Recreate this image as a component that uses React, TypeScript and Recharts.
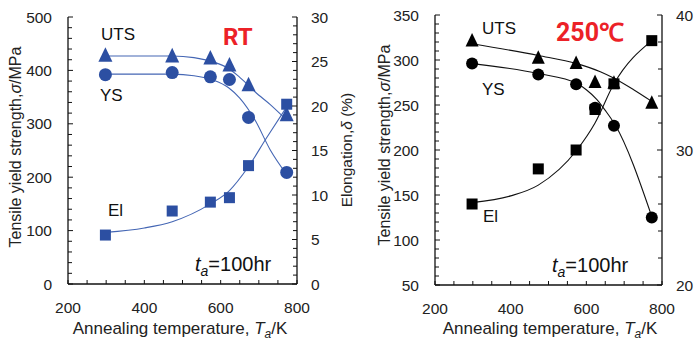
import React from "react";
import { ComposedChart, Line, Scatter, XAxis, YAxis } from "recharts";

// measured points (annealing temperature, K)
const temps = [298, 473, 573, 623, 673, 773];

// RT test
const utsRT = [427, 426, 422, 409, 372, 316];
const ysRT = [392, 396, 388, 383, 312, 209];
const elRT = [5.5, 8.2, 9.2, 9.7, 13.3, 20.2];

// 250C test
const uts250 = [321, 302, 296, 275, 274, 252];
const ys250 = [296, 284, 273, 247, 227, 125];
const el250 = [26.0, 28.6, 30.0, 33.0, 34.9, 38.1];

// fitted curves
const utsRTFitT = [298, 473, 530, 580, 620, 650, 673, 690, 730, 773];
const utsRTFit = [427, 427, 424, 416, 404, 387, 372, 360, 336, 307];
const ysRTFitT = [298, 473, 530, 580, 620, 650, 690, 730, 773];
const ysRTFit = [393, 393, 390, 382, 368, 348, 307, 251, 205];
const elRTFitT = [298, 400, 473, 573, 623, 673, 720, 773];
const elRTFit = [5.8, 6.3, 7.0, 9.0, 10.5, 13.2, 16.4, 19.9];

const uts250FitT = [298, 473, 575, 637, 672, 725, 773];
const uts250Fit = [318, 305, 296, 287, 280, 267, 254];
const ys250FitT = [298, 473, 575, 600, 628, 650, 676, 773];
const ys250Fit = [296, 285, 274, 267, 256, 244, 228, 126];
const el250FitT = [298, 400, 473, 575, 623, 673, 773];
const el250Fit = [26.1, 26.6, 27.4, 30.0, 32.0, 34.9, 38.1];

const xMajor = [200, 400, 600, 800];
const rtLeftMajor = [0, 100, 200, 300, 400, 500];
const rtRightMajor = [0, 5, 10, 15, 20, 25, 30];
const hotLeftMajor = [50, 100, 150, 200, 250, 300, 350];
const hotRightMajor = [20, 30, 40];

const range = (a: number, b: number, s: number) => {
  const out: number[] = [];
  for (let v = a; v <= b + 1e-9; v += s) out.push(Math.round(v * 100) / 100);
  return out;
};

const zip = (xs: number[], ys: number[]) => xs.map((T, i) => ({ T, v: ys[i] }));

const FONT = "'Liberation Sans', Arial, sans-serif";
const BLUE = "#2c4fa2";
const BLUE_LINE = "#4466b4";

const Tri = (color: string, s: number) => (p: any) => (
  <polygon
    points={`${p.cx},${p.cy - s * 0.62} ${p.cx - s / 2},${p.cy + s * 0.42} ${p.cx + s / 2},${p.cy + s * 0.42}`}
    fill={color}
  />
);
const Dot = (color: string, r: number) => (p: any) => <circle cx={p.cx} cy={p.cy} r={r} fill={color} />;
const Sq = (color: string, s: number) => (p: any) => (
  <rect x={p.cx - s / 2} y={p.cy - s / 2} width={s} height={s} fill={color} />
);

// custom ticks: inward tick marks, labels only for major values
const xTick = (bottom: number, major: number[]) => (p: any) => {
  const v = p.payload.value;
  const isMajor = major.includes(v);
  return (
    <g>
      <line x1={p.x} x2={p.x} y1={bottom} y2={bottom - 4} stroke="#111" />
      {isMajor && (
        <text x={p.x} y={bottom + 29} textAnchor="middle" fontSize={15.5} fontFamily={FONT} fill="#222">
          {v}
        </text>
      )}
    </g>
  );
};

const yTick = (edge: number, side: "l" | "r", major: number[], gap: number) => (p: any) => {
  const v = p.payload.value;
  const isMajor = major.includes(v);
  const len = isMajor ? 5 : 4;
  const dir = side === "l" ? 1 : -1;
  return (
    <g>
      <line x1={edge} x2={edge + dir * len} y1={p.y} y2={p.y} stroke="#111" />
      {isMajor && (
        <text
          x={side === "l" ? edge - gap : edge + gap}
          y={p.y + 5.5}
          textAnchor={side === "l" ? "end" : "start"}
          fontSize={15.5}
          fontFamily={FONT}
          fill="#222"
        >
          {v}
        </text>
      )}
    </g>
  );
};

function Panel(props: {
  left: number;
  plotL: number;
  plotR: number;
  top: number;
  bottom: number;
  yDomain: [number, number];
  y2Domain: [number, number];
  yTicks: number[];
  y2Ticks: number[];
  yMajor: number[];
  y2Major: number[];
  color: string;
  lineColor: string;
  uts: number[];
  ys: number[];
  el: number[];
  utsFit: { T: number; v: number }[];
  ysFit: { T: number; v: number }[];
  elFit: { T: number; v: number }[];
  sizes: [number, number, number];
}) {
  const W = 347;
  const H = 343;
  const [ts, cr, ss] = props.sizes;
  return (
    <div style={{ position: "absolute", left: props.left, top: 0 }}>
      <ComposedChart
        width={W}
        height={H}
        margin={{ top: props.top, right: 0, bottom: 0, left: 0 }}
      >
        <XAxis
          dataKey="T"
          type="number"
          domain={[200, 800]}
          ticks={range(200, 800, 50)}
          interval={0}
          height={H - props.bottom}
          axisLine={{ stroke: "#111", strokeWidth: 1.3 }}
          tickLine={false}
          tick={xTick(props.bottom, xMajor)}
          allowDataOverflow
        />
        <XAxis
          xAxisId="top"
          orientation="top"
          type="number"
          domain={[200, 800]}
          height={0}
          tick={false}
          tickLine={false}
          axisLine={{ stroke: "#111", strokeWidth: 1.3 }}
        />
        <YAxis
          yAxisId="l"
          type="number"
          width={props.plotL}
          domain={props.yDomain}
          ticks={props.yTicks}
          interval={0}
          axisLine={{ stroke: "#111", strokeWidth: 1.3 }}
          tickLine={false}
          tick={yTick(props.plotL, "l", props.yMajor, 16)}
        />
        <YAxis
          yAxisId="r"
          orientation="right"
          type="number"
          width={W - props.plotR}
          domain={props.y2Domain}
          ticks={props.y2Ticks}
          interval={0}
          axisLine={{ stroke: "#111", strokeWidth: 1.3 }}
          tickLine={false}
          tick={yTick(props.plotR, "r", props.y2Major, 14)}
        />
        <Line yAxisId="l" data={props.utsFit} dataKey="v" type="monotone" stroke={props.lineColor} strokeWidth={1.1} dot={false} isAnimationActive={false} />
        <Line yAxisId="l" data={props.ysFit} dataKey="v" type="monotone" stroke={props.lineColor} strokeWidth={1.1} dot={false} isAnimationActive={false} />
        <Line yAxisId="r" data={props.elFit} dataKey="v" type="monotone" stroke={props.lineColor} strokeWidth={1.1} dot={false} isAnimationActive={false} />
        <Scatter yAxisId="l" data={zip(temps, props.uts)} dataKey="v" shape={Tri(props.color, ts)} isAnimationActive={false} />
        <Scatter yAxisId="l" data={zip(temps, props.ys)} dataKey="v" shape={Dot(props.color, cr)} isAnimationActive={false} />
        <Scatter yAxisId="r" data={zip(temps, props.el)} dataKey="v" shape={Sq(props.color, ss)} isAnimationActive={false} />
      </ComposedChart>
    </div>
  );
}

const Ta = () => (
  <>
    <tspan fontStyle="italic">t</tspan>
    <tspan fontStyle="italic" fontSize={14} dy={5}>a</tspan>
    <tspan dy={-5}>=100hr</tspan>
  </>
);

const XTitle = ({ x }: { x: number }) => (
  <text x={x} y={334} textAnchor="middle" fontSize={17} fontFamily={FONT} fill="#222">
    Annealing temperature, <tspan fontStyle="italic">T</tspan>
    <tspan fontStyle="italic" fontSize={12} dy={4}>a</tspan>
    <tspan dy={-4}>/K</tspan>
  </text>
);

const YTitle = ({ x, y }: { x: number; y: number }) => (
  <text
    x={x}
    y={y}
    transform={`rotate(-90 ${x} ${y})`}
    textAnchor="middle"
    dominantBaseline="central"
    fontSize={16}
    fontFamily={FONT}
    fill="#222"
  >
    Tensile yield strength,<tspan fontStyle="italic">σ</tspan>/MPa
  </text>
);

export default function App() {
  return (
    <div style={{ position: "absolute", left: 0, top: 0, width: 694, height: 343, background: "#fff", overflow: "hidden" }}>
      <Panel
        left={0}
        plotL={68}
        plotR={297}
        top={17}
        bottom={284}
        yDomain={[0, 500]}
        y2Domain={[0, 30]}
        yTicks={range(0, 500, 20)}
        y2Ticks={range(0, 30, 1)}
        yMajor={rtLeftMajor}
        y2Major={rtRightMajor}
        color={BLUE}
        lineColor={BLUE_LINE}
        uts={utsRT}
        ys={ysRT}
        el={elRT}
        utsFit={zip(utsRTFitT, utsRTFit)}
        ysFit={zip(ysRTFitT, ysRTFit)}
        elFit={zip(elRTFitT, elRTFit)}
        sizes={[14, 6.5, 11]}
      />
      <Panel
        left={347}
        plotL={88}
        plotR={315}
        top={15}
        bottom={285}
        yDomain={[50, 350]}
        y2Domain={[20, 40]}
        yTicks={range(50, 350, 10)}
        y2Ticks={range(20, 40, 2)}
        yMajor={hotLeftMajor}
        y2Major={hotRightMajor}
        color="#000"
        lineColor="#111"
        uts={uts250}
        ys={ys250}
        el={el250}
        utsFit={zip(uts250FitT, uts250Fit)}
        ysFit={zip(ys250FitT, ys250Fit)}
        elFit={zip(el250FitT, el250Fit)}
        sizes={[13, 6, 11]}
      />
      <svg width={694} height={343} style={{ position: "absolute", left: 0, top: 0, pointerEvents: "none" }}>
        {/* RT panel annotations */}
        <text x={101} y={40} fontSize={17} fontFamily={FONT} fill="#111">UTS</text>
        <text x={100} y={101} fontSize={17} fontFamily={FONT} fill="#111">YS</text>
        <text x={108} y={216} fontSize={17} fontFamily={FONT} fill="#111">El</text>
        <text x={223} y={45} fontSize={24} fontWeight="bold" fontFamily="Roboto, sans-serif" fill="#ec2127">RT</text>
        <text x={195} y={271} fontSize={20} fontFamily={FONT} fill="#111"><Ta /></text>
        <XTitle x={180} />
        <YTitle x={15} y={147} />
        <text
          x={346}
          y={150}
          transform="rotate(-90 346 150)"
          textAnchor="middle"
          dominantBaseline="central"
          fontSize={15.5}
          fontFamily={FONT}
          fill="#222"
        >
          Elongation,<tspan fontStyle="italic">δ</tspan> (%)
        </text>
        {/* 250C panel annotations */}
        <text x={482} y={34} fontSize={17} fontFamily={FONT} fill="#111">UTS</text>
        <text x={482} y={95} fontSize={17} fontFamily={FONT} fill="#111">YS</text>
        <text x={483} y={222} fontSize={17} fontFamily={FONT} fill="#111">El</text>
        <text x={556} y={41} fontSize={25} fontWeight="bold" fontFamily="Roboto, sans-serif" fill="#ec2127">250℃</text>
        <text x={552} y={272} fontSize={20} fontFamily={FONT} fill="#111"><Ta /></text>
        <XTitle x={550} />
        <YTitle x={384} y={145} />
      </svg>
    </div>
  );
}
